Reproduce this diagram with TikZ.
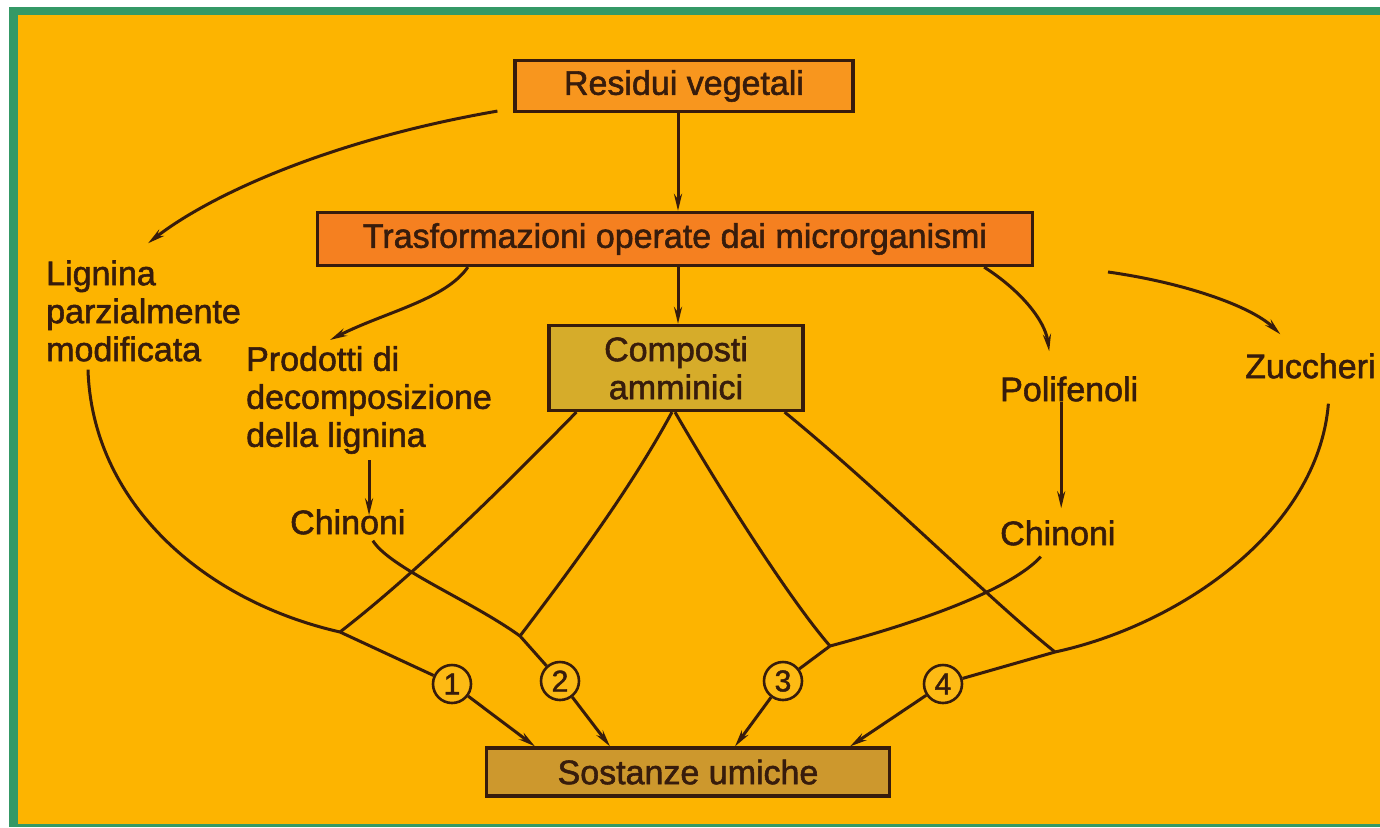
\documentclass[tikz,border=0pt]{standalone}
\usepackage{fontspec}
\setmainfont{Liberation Sans}
\newfontface\thickface{Liberation Sans}[FakeBold=1.6]
\usetikzlibrary{arrows.meta}
\definecolor{bgc}{RGB}{253,180,0}
\definecolor{greenc}{RGB}{52,153,102}
\definecolor{inkc}{RGB}{55,28,12}
\definecolor{resfill}{RGB}{248,150,30}
\definecolor{trafill}{RGB}{245,128,32}
\definecolor{comfill}{RGB}{214,172,42}
\definecolor{sosfill}{RGB}{205,152,45}
\definecolor{circfill}{RGB}{253,186,20}
\begin{document}
\begin{tikzpicture}[x=1pt,y=-1pt,
  ink/.style={draw=inkc, line width=3pt},
  arr/.style={ink, -{Stealth[length=17pt,width=8pt]}},
  box/.style={draw=inkc, line width=3.2pt, inner sep=0pt, text=inkc, font=\thickface\fontsize{34}{38}\selectfont},
  lbl/.style={inner sep=0pt, text=inkc, font=\thickface\fontsize{34}{38}\selectfont, align=left},
  num/.style={circle, draw=inkc, line width=2.6pt, fill=circfill, minimum size=38pt, inner sep=0pt, text=inkc, font=\thickface\fontsize{30}{30}\selectfont}
]
% frame
\fill[white] (0,0) rectangle (1380,827);
\fill[greenc] (9,7) rectangle (1380,827);
\fill[bgc] (18,15) rectangle (1380,824);
\useasboundingbox (0,0) rectangle (1380,827);

% boxes
\node[box, fill=resfill, minimum width=338pt, minimum height=51pt] (res) at (684,86) {Residui vegetali};
\node[box, fill=trafill, minimum width=715pt, minimum height=53pt] (tra) at (675,239) {Trasformazioni operate dai microrganismi};
\node[box, fill=comfill, minimum width=254pt, minimum height=85pt, align=center] (com) at (676,368) {Composti\\amminici};
\node[box, fill=sosfill, minimum width=403pt, minimum height=48pt] (sos) at (688,772) {Sostanze umiche};

% labels
\node[lbl, anchor=west] (lig) at (46,311) {Lignina\\parzialmente\\modificata};
\node[lbl, anchor=west] (prod) at (246,400) {Prodotti di\\decomposizione\\della lignina};
\node[lbl, anchor=west] (chL) at (290,522) {Chinoni};
\node[lbl, anchor=west] (pol) at (1000,389) {Polifenoli};
\node[lbl, anchor=west] (chR) at (1000,533) {Chinoni};
\node[lbl, anchor=west] (zuc) at (1245,366) {Zuccheri};

% numbered circles
\node[num] (c1) at (452,684) {1};
\node[num] (c2) at (560,681) {2};
\node[num] (c3) at (783,681) {3};
\node[num] (c4) at (943,684) {4};

% junctions and free end
\coordinate (j1) at (340,632);
\coordinate (j2) at (520,636);
\coordinate (j3) at (830,646);
\coordinate (j4) at (1055,652);
\coordinate (zs) at (1108,272);

% top arrows
\draw[arr] ([xshift=-16pt,yshift=2pt]res.south west) .. controls (330,140) and (210,195) .. ([xshift=102pt,yshift=17pt]lig.north west);
\draw[arr] ([xshift=-6pt]res.south) -- ([xshift=-6pt]res.south |- tra.north);
\draw[arr] ([xshift=3pt]tra.south) -- ([xshift=3pt]tra.south |- com.north);
\draw[arr] ([xshift=152pt]tra.south west) .. controls (445,300) and (385,312) .. ([xshift=84pt,yshift=6pt]prod.north west);
\draw[arr] ([xshift=-50pt]tra.south east) .. controls (1020,290) and (1045,320) .. ([xshift=-20pt,yshift=25pt]pol.north);
\draw[arr] (zs) .. controls (1180,282) and (1250,305) .. ([xshift=-30pt,yshift=19pt]zuc.north);
\draw[arr] ([yshift=-6pt]prod.south) -- ([yshift=-6pt]prod.south |- chL.north);
\draw[arr] ([xshift=-8pt]pol.south) -- ([xshift=-8pt,yshift=12pt]pol.south |- chR.north);

% pathway 1
\draw[ink] ([xshift=42pt,yshift=-8pt]lig.south west) .. controls (92,500) and (200,600) .. (j1) -- (c1);
\draw[ink] ([xshift=29pt]com.south west) .. controls (510,480) and (420,570) .. (j1);
% pathway 2
\draw[ink] ([xshift=25pt,yshift=-6pt]chL.south) .. controls (390,568) and (470,600) .. (j2) -- (c2);
\draw[ink] ([xshift=-4pt]com.south) .. controls (630,490) and (570,570) .. (j2);
% pathway 3
\draw[ink] ([xshift=-1pt]com.south) .. controls (720,490) and (790,600) .. (j3);
\draw[ink] ([xshift=-17pt,yshift=-11pt]chR.south) .. controls (1010,590) and (920,622) .. (j3) -- (c3);
% pathway 4
\draw[ink] ([xshift=-20pt]com.south east) .. controls (880,490) and (990,600) .. (j4);
\draw[ink] ([xshift=18pt,yshift=-25pt]zuc.south) .. controls (1318,530) and (1180,625) .. (j4) -- (c4);

% to humic substances
\draw[arr] (c1) -- ([xshift=-153pt]sos.north);
\draw[arr] (c2) -- ([xshift=-78pt]sos.north);
\draw[arr] (c3) -- ([xshift=47pt]sos.north);
\draw[arr] (c4) -- ([xshift=162pt]sos.north);
\end{tikzpicture}
\end{document}
